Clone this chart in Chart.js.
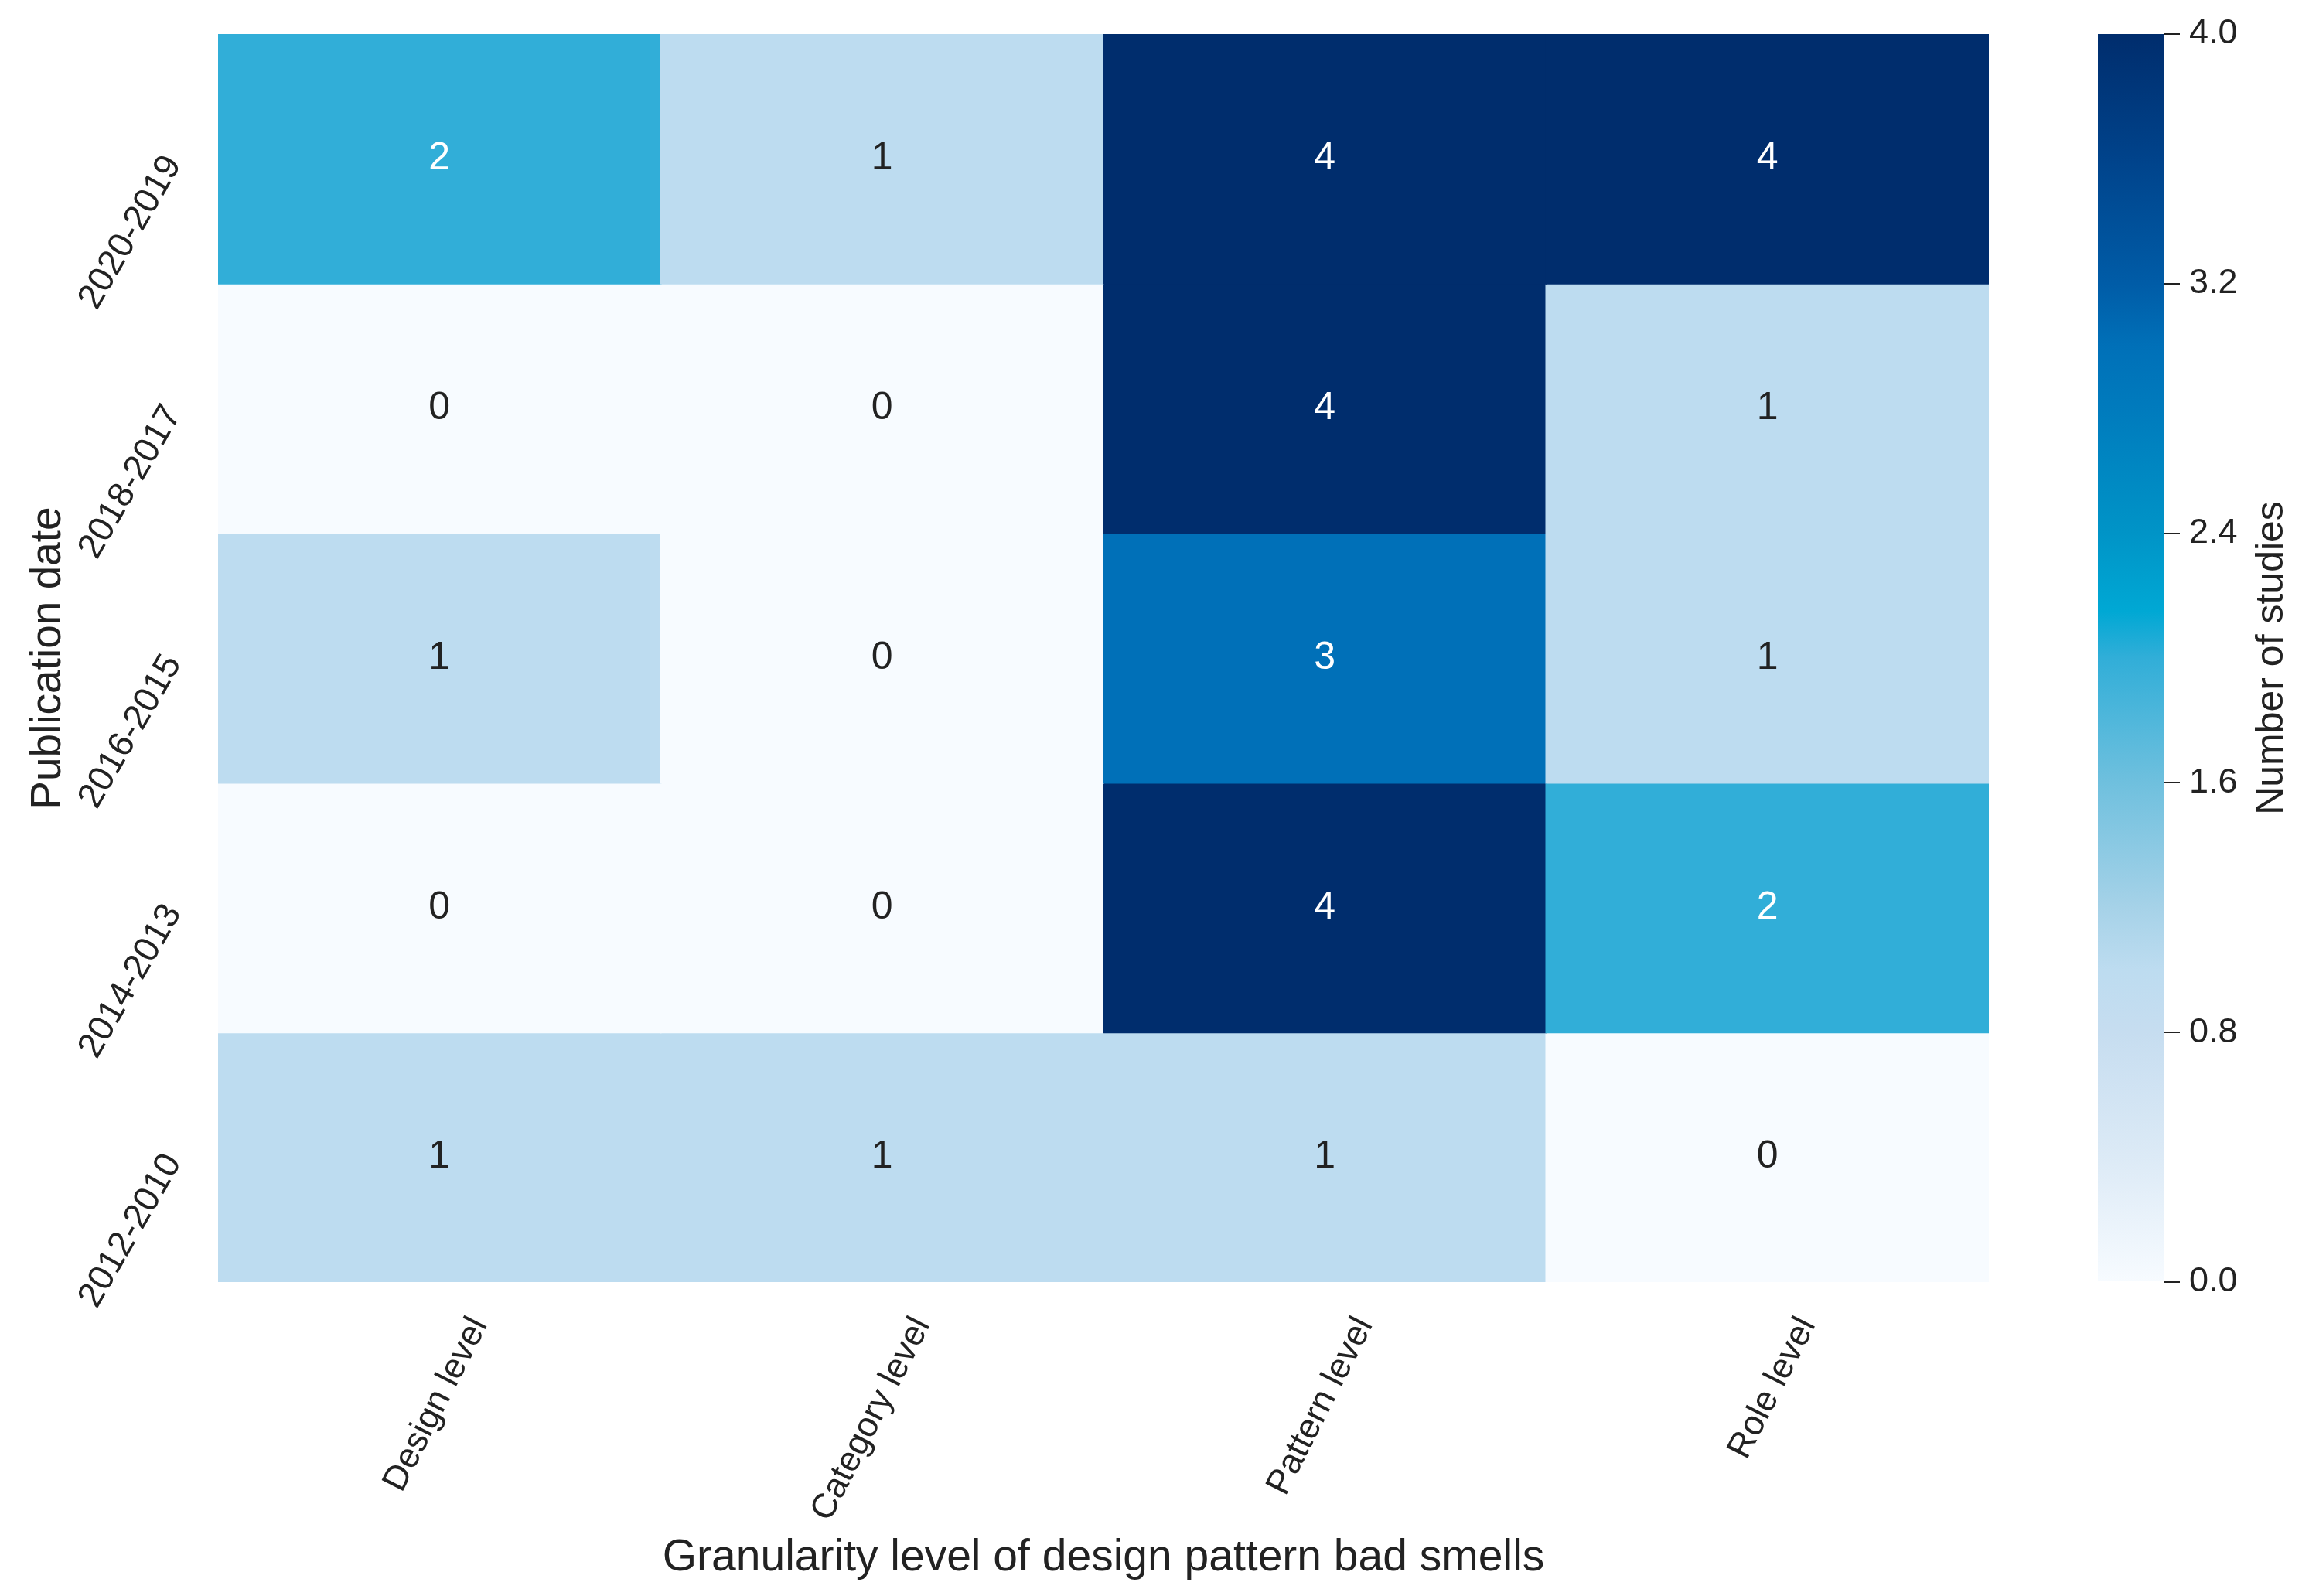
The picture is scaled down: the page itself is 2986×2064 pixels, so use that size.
<!DOCTYPE html>
<html><head><meta charset="utf-8">
<script src="https://cdn.jsdelivr.net/npm/chart.js@4.4.1/dist/chart.umd.min.js"></script>
<style>
html,body{margin:0;padding:0;background:#fff;}
#wrap{position:relative;width:2986px;height:2064px;background:#fff;}
canvas{position:absolute;left:0;top:0;}
</style>
</head><body>
<div id="wrap"><canvas id="main" width="2986" height="2064"></canvas><canvas id="cbar" width="2986" height="2064"></canvas></div>
<script>
// ---- data ----
const rowLabels = ['2020-2019', '2018-2017', '2016-2015', '2014-2013', '2012-2010'];
const colLabels = ['Design level', 'Category level', 'Pattern level', 'Role level'];
const row2020_2019 = [2, 1, 4, 4];
const row2018_2017 = [0, 0, 4, 1];
const row2016_2015 = [1, 0, 3, 1];
const row2014_2013 = [0, 0, 4, 2];
const row2012_2010 = [1, 1, 1, 0];
const counts = [row2020_2019, row2018_2017, row2016_2015, row2014_2013, row2012_2010];
const colorbarTicks = [0, 0.8, 1.6, 2.4, 3.2, 4.0];
const colorMin = 0, colorMax = 4;
const xTitle = 'Granularity level of design pattern bad smells';
const yTitle = 'Publication date';
const cbTitle = 'Number of studies';

// ---- colormap ----
const cmap = [
  [0.0, '#f7fbff'], [0.4, '#dceaf6'], [0.8, '#c6ddf0'], [1.0, '#bddcf0'],
  [1.2, '#a6d2e8'], [1.6, '#6fc0de'], [2.0, '#31aed8'], [2.15, '#00a8d4'],
  [2.4, '#0094c7'], [2.8, '#007bbd'], [3.0, '#0070b8'], [3.2, '#005ca7'],
  [3.6, '#00438b'], [4.0, '#002d6d']
];
function hex2rgb(h){return [parseInt(h.slice(1,3),16),parseInt(h.slice(3,5),16),parseInt(h.slice(5,7),16)];}
function colorAt(v){
  for (let i = 0; i < cmap.length - 1; i++) {
    const [a, ca] = cmap[i], [b, cb] = cmap[i+1];
    if (v >= a && v <= b) {
      const t = (v - a) / (b - a), A = hex2rgb(ca), B = hex2rgb(cb);
      return 'rgb(' + A.map((c, k) => Math.round(c + (B[k] - c) * t)).join(',') + ')';
    }
  }
  return v < cmap[0][0] ? cmap[0][1] : cmap[cmap.length-1][1];
}

const FONT = "'Liberation Sans', Arial, Helvetica, sans-serif";
const TXT = '#222222';
const W = 2986, H = 2064;
const plotLeft = 282, plotRight = 2572, plotTop = 44, plotBottom = 1658;

const cellLabels = {
  id: 'cellLabels',
  afterDatasetsDraw(chart) {
    const ctx = chart.ctx;
    ctx.save();
    ctx.font = '50px ' + FONT;
    ctx.textAlign = 'center';
    ctx.textBaseline = 'middle';
    chart.data.datasets.forEach((ds, di) => {
      const meta = chart.getDatasetMeta(di);
      meta.data.forEach((bar, i) => {
        const v = ds.counts[i];
        ctx.fillStyle = v >= 2 ? '#ffffff' : TXT;
        ctx.fillText(String(v), bar.x, (bar.y + bar.base) / 2);
      });
    });
    ctx.restore();
  }
};

const xTickShift = 0.09;
new Chart(document.getElementById('main'), {
  type: 'bar',
  data: {
    labels: colLabels,
    datasets: counts.map((vals, r) => ({
      label: rowLabels[r],
      counts: vals,
      data: vals.map(() => [r, r + 1]),
      backgroundColor: vals.map(v => colorAt(v)),
      borderWidth: 0,
      inflateAmount: 1,
      barPercentage: 1,
      categoryPercentage: 1,
      grouped: false
    }))
  },
  options: {
    responsive: false,
    animation: false,
    devicePixelRatio: 1,
    layout: { padding: { left: 0, top: plotTop, right: W - plotRight, bottom: 0 } },
    plugins: { legend: { display: false }, tooltip: { enabled: false } },
    scales: {
      x: { type: 'category', display: false },
      y: {
        type: 'linear', position: 'left', min: 0, max: rowLabels.length, reverse: true, offset: false,
        afterBuildTicks: s => { s.ticks = rowLabels.map((_, i) => ({ value: i + 0.5 })); },
        afterFit: s => { s.width = plotLeft; s.paddingTop = 0; s.paddingBottom = 0; },
        grid: { display: false, drawTicks: false },
        border: { display: false },
        ticks: {
          minRotation: 60, maxRotation: 60, padding: 58,
          font: { size: 46, family: FONT }, color: TXT,
          callback: (v, i) => rowLabels[i]
        },
        title: { display: true, text: yTitle, color: TXT, font: { size: 55, family: FONT }, padding: { top: 30, bottom: 0 } }
      },
      xl: {
        type: 'linear', axis: 'x', position: 'bottom', min: -0.5, max: colLabels.length - 0.5, offset: false,
        afterBuildTicks: s => { s.ticks = colLabels.map((_, i) => ({ value: i + xTickShift })); },
        afterFit: s => { s.height = H - plotBottom; s.paddingLeft = 0; s.paddingRight = 0; },
        grid: { display: false, drawTicks: false, offset: false },
        border: { display: false },
        ticks: {
          minRotation: 63, maxRotation: 63, padding: 37, autoSkip: false,
          font: { size: 45, family: FONT }, color: TXT,
          callback: (v, i) => colLabels[i]
        },
        title: { display: true, text: xTitle, color: TXT, font: { size: 57, family: FONT }, padding: { top: 0, bottom: 15 } }
      }
    }
  },
  plugins: [cellLabels]
});

// ---- colorbar ----
const cbLeft = 2713, cbRight = 2799;
const cbTitlePlugin = {
  id: 'cbTitle',
  afterDraw(chart) {
    const ctx = chart.ctx, s = chart.scales.y;
    ctx.save();
    ctx.font = '50px ' + FONT;
    ctx.fillStyle = TXT;
    ctx.textAlign = 'center';
    ctx.textBaseline = 'middle';
    ctx.translate(s.right - 48, (s.top + s.bottom) / 2);
    ctx.rotate(-Math.PI / 2);
    ctx.fillText(cbTitle, 0, 0);
    ctx.restore();
  }
};
new Chart(document.getElementById('cbar'), {
  type: 'bar',
  data: {
    labels: ['cb'],
    datasets: [{
      data: [[colorMin, colorMax]],
      backgroundColor: (c) => {
        const s = c.chart.scales.y;
        if (!s || s.top === undefined || isNaN(s.getPixelForValue(colorMin))) return colorAt(2);
        const g = c.chart.ctx.createLinearGradient(0, s.getPixelForValue(colorMin), 0, s.getPixelForValue(colorMax));
        cmap.forEach(([v, col]) => g.addColorStop((v - colorMin) / (colorMax - colorMin), col));
        return g;
      },
      borderWidth: 0,
      inflateAmount: 0,
      barPercentage: 1,
      categoryPercentage: 1
    }]
  },
  options: {
    responsive: false,
    animation: false,
    devicePixelRatio: 1,
    layout: { padding: { left: cbLeft, top: plotTop, right: 0, bottom: H - plotBottom } },
    plugins: { legend: { display: false }, tooltip: { enabled: false } },
    scales: {
      x: { type: 'category', display: false },
      y: {
        type: 'linear', position: 'right', min: colorMin, max: colorMax,
        afterBuildTicks: s => { s.ticks = colorbarTicks.map(v => ({ value: v })); },
        afterFit: s => { s.width = W - cbRight; s.paddingTop = 0; s.paddingBottom = 0; },
        grid: { drawOnChartArea: false, drawTicks: true, tickLength: 20, color: TXT, lineWidth: 2 },
        border: { display: false },
        ticks: { padding: 12, font: { size: 45, family: FONT }, color: TXT, callback: (v) => Number(v).toFixed(1) }
      }
    }
  },
  plugins: [cbTitlePlugin]
});
</script>
</body></html>
